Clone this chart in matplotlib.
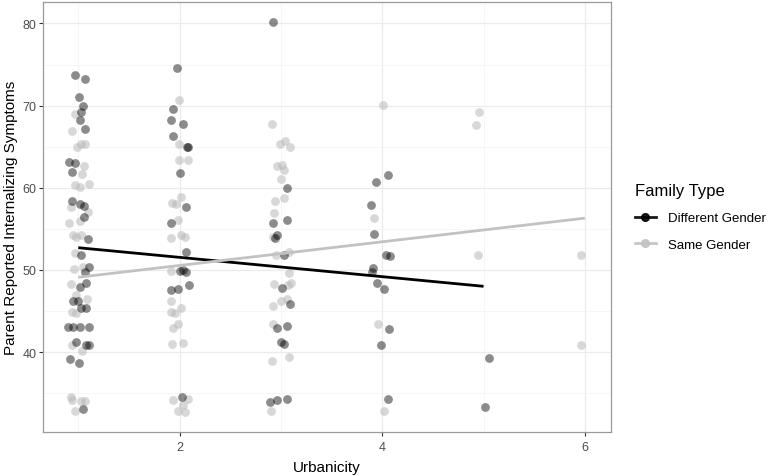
import matplotlib
matplotlib.use('Agg')
import matplotlib.pyplot as plt
from matplotlib.lines import Line2D
from matplotlib.ticker import MultipleLocator

plt.rcParams['font.family'] = ['Liberation Sans', 'DejaVu Sans']

# Different Gender points (jittered urbanicity, symptom score)
diff_x = [0.97, 1.07, 1.01, 1.05, 1.03, 1.02, 1.07, 0.91, 0.97, 0.94, 0.94, 1.02, 1.06, 1.06, 1.10,
          1.03, 1.11, 1.07, 1.08, 1.02, 0.95, 1.00, 1.03, 1.08, 0.90, 0.95, 1.02, 1.11, 0.98, 1.08,
          1.11, 0.92, 1.01, 1.05,
          1.97, 1.94, 1.92, 2.03, 1.94, 2.07, 2.08, 2.00, 2.06, 1.92, 2.06, 2.00, 2.06, 2.03, 2.09,
          1.92, 1.98, 2.02,
          2.92, 3.06, 2.92, 3.06, 2.96, 2.94, 3.03, 3.01, 3.09, 2.96, 3.06, 3.00, 3.03, 2.89, 2.96, 3.06,
          4.06, 3.94, 3.89, 3.92, 4.04, 4.08, 3.91, 3.90, 3.95, 4.02, 4.07, 3.99, 4.06,
          5.05, 5.01]
diff_y = [73.7, 73.3, 71.0, 69.9, 69.2, 68.2, 67.1, 63.1, 63.0, 61.9, 58.4, 58.0, 57.8, 56.4, 53.8,
          51.8, 50.4, 49.7, 48.4, 47.9, 46.2, 46.2, 45.4, 45.3, 43.0, 43.0, 43.0, 43.1, 41.2, 40.9,
          40.8, 39.2, 38.7, 33.1,
          74.6, 69.6, 68.3, 67.8, 66.3, 64.9, 65.0, 61.8, 57.7, 55.7, 52.2, 49.9, 49.7, 50.0, 48.1,
          47.6, 47.7, 34.5,
          80.2, 60.0, 55.7, 56.1, 54.2, 53.9, 51.8, 47.8, 45.8, 42.9, 43.2, 41.2, 41.0, 33.9, 34.1, 34.3,
          61.6, 60.7, 57.9, 54.4, 51.8, 51.7, 50.2, 49.8, 48.4, 47.7, 42.8, 40.8, 34.3,
          39.3, 33.3]

# Same Gender points
same_x = [0.97, 0.94, 0.99, 1.03, 1.07, 1.06, 1.04, 0.97, 1.02, 1.11, 0.93, 1.10, 0.91, 1.02, 0.95,
          1.03, 0.98, 0.97, 0.96, 1.05, 0.93, 0.98, 1.09, 0.94, 0.98, 0.94, 1.04, 0.93, 0.94, 1.03,
          1.07, 0.97,
          1.99, 1.99, 1.99, 2.08, 2.01, 1.93, 1.96, 1.98, 1.92, 2.01, 2.05, 1.92, 1.92, 2.01, 1.92,
          1.95, 1.98, 1.94, 1.93, 2.03, 1.94, 2.08, 2.03, 1.98, 2.05,
          2.91, 2.99, 3.04, 3.09, 2.96, 3.01, 3.03, 3.00, 3.03, 2.94, 2.93, 2.92, 2.95, 3.08, 3.08,
          2.93, 3.07, 3.10, 3.00, 3.06, 2.92, 2.92, 2.91, 3.08, 2.90,
          4.01, 3.92, 3.96, 4.02,
          4.96, 4.93, 4.95,
          5.96, 5.96]
same_y = [69.0, 66.9, 64.9, 65.3, 65.3, 62.7, 61.7, 60.3, 60.1, 60.4, 57.7, 57.1, 55.7, 55.9, 54.3,
          54.3, 54.0, 52.0, 50.1, 50.3, 48.3, 46.9, 46.5, 44.9, 44.8, 40.8, 40.1, 34.5, 34.1, 34.0,
          34.0, 32.8,
          70.7, 65.3, 63.4, 63.4, 58.9, 58.1, 58.0, 56.1, 53.9, 54.2, 54.0, 49.9, 46.2, 45.3, 44.9,
          44.7, 43.4, 42.9, 41.0, 41.1, 34.1, 34.3, 33.6, 32.8, 32.7,
          67.8, 65.3, 65.7, 64.9, 62.7, 62.8, 62.2, 61.1, 58.7, 58.4, 56.9, 54.0, 51.8, 52.2, 49.6,
          48.3, 48.2, 48.4, 46.2, 46.4, 45.6, 43.4, 38.9, 39.4, 32.8,
          70.1, 56.3, 43.4, 32.8,
          69.2, 67.6, 51.8,
          51.8, 40.8]

# linear fit lines (fitted values at the ends)
diff_fit_x = [1, 5]
diff_fit_y = [52.7, 48.0]
same_fit_x = [1, 6]
same_fit_y = [49.1, 56.3]

DARK = 'black'
LIGHT = '#b8b8b8'

fig = plt.figure(figsize=(7.7, 4.77), dpi=100)
ax = fig.add_axes([43.3 / 770, 1 - 432.7 / 477, (611 - 43.3) / 770, (432.7 - 2.7) / 477])

ax.scatter(same_x, same_y, s=40, color=LIGHT, alpha=0.55, linewidths=0, zorder=3)
ax.scatter(diff_x, diff_y, s=40, color=DARK, alpha=0.45, linewidths=0, zorder=3)
ax.plot(diff_fit_x, diff_fit_y, color=DARK, lw=2.0, zorder=4, solid_capstyle='butt')
ax.plot(same_fit_x, same_fit_y, color='#c2c2c2', lw=2.0, zorder=4, solid_capstyle='butt')

ax.set_xlim(0.655, 6.258)
ax.set_ylim(30.3, 82.65)
ax.xaxis.set_major_locator(MultipleLocator(2))
ax.xaxis.set_minor_locator(MultipleLocator(1))
ax.yaxis.set_major_locator(MultipleLocator(10))
ax.yaxis.set_minor_locator(MultipleLocator(5))
ax.grid(which='major', color='#ebebeb', lw=0.9, zorder=0)
ax.grid(which='minor', color='#f3f3f3', lw=0.5, zorder=0)
ax.set_axisbelow(True)
ax.tick_params(which='major', length=3, width=0.8, color='#333333',
               labelsize=9, labelcolor='#4d4d4d')
ax.tick_params(axis='x', which='major', pad=4)
ax.tick_params(axis='y', which='major', pad=2)
ax.tick_params(which='minor', length=0)
for sp in ax.spines.values():
    sp.set_color('#9a9a9a')
    sp.set_linewidth(0.9)

ax.set_xlabel('Urbanicity', fontsize=11, labelpad=4.5)
ax.set_ylabel('Parent Reported Internalizing Symptoms', fontsize=11, labelpad=3)

handles = [
    Line2D([0], [0], color=DARK, lw=2.0, marker='o', markersize=5.5, alpha=0.9),
    Line2D([0], [0], color='#c2c2c2', lw=2.0, marker='o', markersize=5.5, alpha=0.9),
]
fig.legend(handles, ['Different Gender', 'Same Gender'], title='Family Type',
           loc='center left', bbox_to_anchor=(0.809, 0.543), frameon=False,
           fontsize=9.5, title_fontsize=12, handlelength=1.6, handletextpad=0.9,
           labelspacing=1.05, alignment='left')

fig.savefig('out.png', dpi=100)
